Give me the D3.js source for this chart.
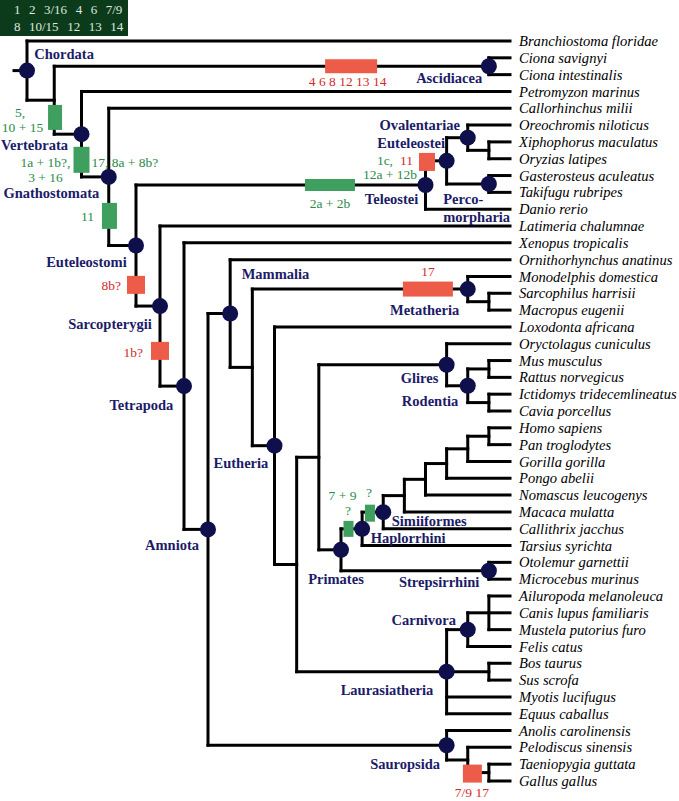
<!DOCTYPE html>
<html><head><meta charset="utf-8">
<script src="https://cdn.jsdelivr.net/npm/d3@7"></script>
<style>html,body{margin:0;padding:0;background:#fff;}svg{display:block;}</style>
</head><body>
<svg id="c" width="679" height="801"></svg>
<script>
// ---------------- DATA ----------------
const treeNewick = "(Branchiostoma floridae,((Ciona savignyi,Ciona intestinalis)Ascidiacea,(Petromyzon marinus,(Callorhinchus milii,((((Oreochromis niloticus,(Xiphophorus maculatus,Oryzias latipes))Ovalentariae,(Gasterosteus aculeatus,Takifugu rubripes)Percomorpharia)Euteleostei,Danio rerio)Teleostei,(Latimeria chalumnae,(Xenopus tropicalis,((Ornithorhynchus anatinus,((Monodelphis domestica,(Sarcophilus harrisii,Macropus eugenii))Metatheria,(Loxodonta africana,(((Oryctolagus cuniculus,((Mus musculus,Rattus norvegicus),(Ictidomys tridecemlineatus,Cavia porcellus))Rodentia)Glires,((((((((Homo sapiens,Pan troglodytes),Gorilla gorilla),Pongo abelii),Nomascus leucogenys),Macaca mulatta),Callithrix jacchus)Simiiformes,Tarsius syrichta)Haplorrhini,(Otolemur garnettii,Microcebus murinus)Strepsirrhini)Primates)Euarchontoglires,(((Ailuropoda melanoleuca,Canis lupus familiaris,Mustela putorius furo),Felis catus)Carnivora,(Bos taurus,Sus scrofa)Cetartiodactyla,Myotis lucifugus,Equus caballus)Laurasiatheria)Boreoeutheria)Eutheria)Theria)Mammalia,(Anolis carolinensis,(Pelodiscus sinensis,(Taeniopygia guttata,Gallus gallus)Aves)Archelosauria)Sauropsida)Amniota)Tetrapoda)Sarcopterygii)Euteleostomi)Gnathostomata)Vertebrata)Olfactores)Chordata";

const labelledClades = ["Chordata","Ascidiacea","Vertebrata","Gnathostomata","Euteleostomi","Teleostei","Euteleostei","Ovalentariae","Percomorpharia","Sarcopterygii","Tetrapoda","Amniota","Mammalia","Metatheria","Eutheria","Glires","Rodentia","Primates","Haplorrhini","Simiiformes","Strepsirrhini","Carnivora","Laurasiatheria","Sauropsida"];
const cladeDisplay = {Percomorpharia: ["Perco-","morpharia"]};

const legendRow1 = ["1","2","3/16","4","6","7/9"];
const legendRow2 = ["8","10/15","12","13","14"];

// markers on branches: box type (gain = green, loss = red) and texts [text, type]
const markers = [
  {branch:"Ascidiacea",    box:"loss", texts:[["4 6 8 12 13 14","loss"]]},
  {branch:"Vertebrata",    box:"gain", texts:[["5,","gain"],["10 + 15","gain"]]},
  {branch:"Gnathostomata", box:"gain", texts:[["1a + 1b?,","gain"],["3 + 16","gain"],["17, 8a + 8b?","gain"]]},
  {branch:"Euteleostomi",  box:"gain", texts:[["11","gain"]]},
  {branch:"Sarcopterygii", box:"loss", texts:[["8b?","loss"]]},
  {branch:"Tetrapoda",     box:"loss", texts:[["1b?","loss"]]},
  {branch:"Teleostei",     box:"gain", texts:[["2a + 2b","gain"]]},
  {branch:"Euteleostei",   box:"loss", texts:[["1c,","gain"],["11","loss"],["12a + 12b","gain"]]},
  {branch:"Metatheria",    box:"loss", texts:[["17","loss"]]},
  {branch:"Haplorrhini",   box:"gain", texts:[["?","gain"],["7 + 9","gain"]]},
  {branch:"Simiiformes",   box:"gain", texts:[["?","gain"]]},
  {branch:"Aves",          box:"loss", texts:[["7/9 17","loss"]]}
];

// ---------------- LAYOUT / STYLE ----------------
const C = {
  line:"#000", dot:"#0f0f4c", clade:"#1b1b68",
  gainBox:"#3e9f5e", lossBox:"#ec5c49", gainText:"#2b8a49", lossText:"#d32b2b",
  legendBg:"#0c3b1c", legendText:"#dce8dc"
};
const SERIF = "'Liberation Serif','Times New Roman',Times,serif";

function parseNewick(s){
  let i = 0;
  function node(){
    const n = {};
    if (s[i] === "("){
      n.children = [];
      i++;
      n.children.push(node());
      while (s[i] === ","){ i++; n.children.push(node()); }
      i++; // ')'
    }
    let name = "";
    while (i < s.length && s[i] !== "," && s[i] !== ")" ) name += s[i++];
    n.name = name.trim();
    return n;
  }
  return node();
}

const root = d3.hierarchy(parseNewick(treeNewick));
const H = root.height; // 21
const xScale = d3.scaleLinear().domain([0,4,7,13,21]).range([27,136,208,341,510]);
const leaves = root.leaves();
const yScale = d3.scaleLinear().domain([0, leaves.length-1]).range([41, 781]);
leaves.forEach((d,i)=>{ d.py = yScale(i); });
root.eachAfter(d=>{
  d.px = xScale(H - d.height);
  if (d.children){
    d.py = d3.mean(d.children, c=>c.py);
    if (d.data.name === "Laurasiatheria"){
      d.py = d.children.find(c=>c.data.name==="Cetartiodactyla").py;
    }
  }
});
const byName = {};
root.each(d=>{ if (d.data.name) byName[d.data.name] = d; });

const svg = d3.select("#c");
const g = svg.append("g");

// branches
const segs = [];
root.each(d=>{
  if (d.children){
    const ys = d.children.map(c=>c.py);
    segs.push([[d.px, d3.min(ys)],[d.px, d3.max(ys)]]);
    d.children.forEach(c=>segs.push([[d.px, c.py],[c.px, c.py]]));
  }
});
segs.push([[xScale(0)-13, root.py],[xScale(0), root.py]]);
g.append("g").selectAll("line").data(segs).join("line")
  .attr("x1",s=>s[0][0]).attr("y1",s=>s[0][1]).attr("x2",s=>s[1][0]).attr("y2",s=>s[1][1])
  .attr("stroke",C.line).attr("stroke-width",3).attr("stroke-linecap","square");

// marker placement (fraction along the branch, box size, text offsets)
const mPlace = {
  Ascidiacea:   {dir:"h", t:0.683, w:52, h:14, txt:[[-3.5,14.7,"middle"]]},
  Vertebrata:   {dir:"v", t:0.507, w:14, h:25, dx:0.8, txt:[[-35,-5.5,"middle"],[-32.5,9.5,"middle"]]},
  Gnathostomata:{dir:"v", t:0.6,   w:16, h:26, txt:[[-36,2,"middle"],[-36,17.3,"middle"],[10,2,"start"]]},
  Euteleostomi: {dir:"v", t:0.568, w:15, h:26, dx:0.7, txt:[[-15.5,0,"end"]]},
  Sarcopterygii:{dir:"v", t:0.65,  w:18, h:18, txt:[[-15,0,"end"]]},
  Tetrapoda:    {dir:"v", t:0.56,  w:18, h:18, txt:[[-17,1,"end"]]},
  Teleostei:    {dir:"h", t:0.67,  w:50, h:12, txt:[[0,18,"middle"]]},
  Euteleostei:  {dir:"v", t:0.955, w:16, h:18, dx:1.5, txt:[[-34,-2,"end"],[-27,-2,"start"],[-10,12,"end"]]},
  Metatheria:   {dir:"h", t:0.815, w:50, h:15, txt:[[0,-17.5,"middle"]]},
  Haplorrhini:  {dir:"h", t:0.355, w:10, h:16, txt:[[-0.5,-19,"middle"],[-6,-34,"middle"]]},
  Simiiformes:  {dir:"h", t:0.37,  w:10, h:17, dy:1, txt:[[-1,-20.5,"middle"]]},
  Aves:         {dir:"h", t:0.22,  w:19, h:18, dy:1, txt:[[-0.5,18.5,"middle"]]}
};
markers.forEach(m=>{
  const n = byName[m.branch], p = n.parent, pl = mPlace[m.branch];
  let cx, cy;
  if (pl.dir === "h"){ cx = p.px + pl.t*(n.px - p.px); cy = n.py; }
  else { cx = p.px; cy = p.py + pl.t*(n.py - p.py); }
  cx += pl.dx||0; cy += pl.dy||0;
  m.cx = cx; m.cy = cy; m.pl = pl;
});
g.append("g").selectAll("rect").data(markers).join("rect")
  .attr("x",m=>m.cx-m.pl.w/2).attr("y",m=>m.cy-m.pl.h/2)
  .attr("width",m=>m.pl.w).attr("height",m=>m.pl.h)
  .attr("fill",m=>m.box==="gain"?C.gainBox:C.lossBox);
const mt = [];
markers.forEach(m=>m.texts.forEach((t,k)=>{
  const o = m.pl.txt[k];
  mt.push({text:t[0], type:t[1], x:m.cx+o[0], y:m.cy+o[1], anchor:o[2]});
}));
g.append("g").selectAll("text").data(mt).join("text")
  .attr("x",d=>d.x).attr("y",d=>d.y).attr("dy","0.35em")
  .attr("text-anchor",d=>d.anchor)
  .attr("font-family",SERIF).attr("font-size",13.5)
  .attr("fill",d=>d.type==="gain"?C.gainText:C.lossText)
  .text(d=>d.text);

// dots
g.append("g").selectAll("circle").data(labelledClades.map(n=>byName[n])).join("circle")
  .attr("cx",d=>d.px).attr("cy",d=>d.py).attr("r",8).attr("fill",C.dot);

// clade labels
const lPos = {
  Chordata:[7.3,-16.6,"start"], Ascidiacea:[-6.7,11.5,"end"], Vertebrata:[-13.5,10.75,"end"],
  Gnathostomata:[-9.5,16.3,"end"], Euteleostomi:[-9.3,16,"end"], Sarcopterygii:[-8.3,17.8,"end"],
  Tetrapoda:[-10.7,18.6,"end"], Amniota:[-9,15.3,"end"], Mammalia:[11.5,-39.7,"start"],
  Metatheria:[-8.5,20.8,"end"], Glires:[-8.3,13.3,"end"], Rodentia:[-9.5,14.7,"end"],
  Eutheria:[-6.2,17.3,"end"], Primates:[-5,28.8,"middle"], Haplorrhini:[8.6,9.1,"start"],
  Simiiformes:[8.5,8.5,"start"], Strepsirrhini:[-9.6,11.5,"end"], Carnivora:[-11.75,-9.3,"end"],
  Laurasiatheria:[-13.3,17.9,"end"], Sauropsida:[-6.6,18.5,"end"], Ovalentariae:[-7.75,-12.8,"end"],
  Euteleostei:[-1.6,-17.6,"end"], Teleostei:[-7.2,14.2,"end"], Percomorpharia:[-45.6,15.2,"start"]
};
const cl = [];
labelledClades.forEach(name=>{
  const n = byName[name], o = lPos[name];
  const lines = cladeDisplay[name] || [name];
  lines.forEach((t,k)=>cl.push({text:t, x:n.px+o[0], y:n.py+o[1]+k*17.4, anchor:o[2]}));
});
g.append("g").selectAll("text").data(cl).join("text")
  .attr("x",d=>d.x).attr("y",d=>d.y).attr("dy","0.35em").attr("text-anchor",d=>d.anchor)
  .attr("font-family",SERIF).attr("font-weight","bold").attr("font-size",14.5)
  .attr("fill",C.clade).text(d=>d.text);

// leaf labels
g.append("g").selectAll("text").data(leaves).join("text")
  .attr("x",d=>d.px+9).attr("y",d=>d.py).attr("dy","0.35em")
  .attr("font-family",SERIF).attr("font-style","italic").attr("font-size",14.6)
  .attr("fill","#000").text(d=>d.data.name);

// legend
const lg = svg.append("g");
lg.append("rect").attr("x",0).attr("y",0).attr("width",128).attr("height",36).attr("fill",C.legendBg);
[[legendRow1,9.5],[legendRow2,26]].forEach(([row,cy])=>{
  let cur = 14;
  row.forEach(t=>{
    const tx = lg.append("text").attr("x",cur).attr("y",cy).attr("dy","0.35em")
      .attr("font-family",SERIF).attr("font-size",13).attr("fill",C.legendText).text(t);
    cur += tx.node().getComputedTextLength() + 8.5;
  });
});
</script>
</body></html>
